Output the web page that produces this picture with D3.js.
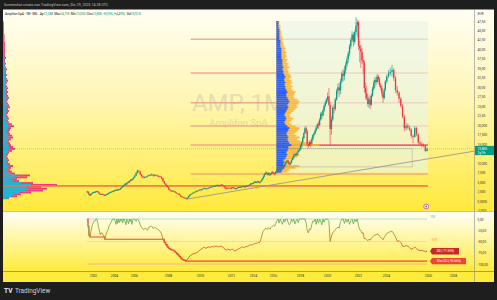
<!DOCTYPE html>
<html>
<head>
<meta charset="utf-8">
<script src="https://cdnjs.cloudflare.com/ajax/libs/d3/7.8.5/d3.min.js"></script>
<style>
  body { margin: 0; background: #1e1e1e; }
  svg { display: block; font-family: Roboto, "Liberation Sans", sans-serif; }
</style>
</head>
<body>
<script>
// Monthly candles Amplifon (EUR), Jun 2001 .. Dec 2025
const closes = [
  2.5, 2.1, 1.6, 1.5, 1.8, 2.0, 2.2,                               // 2001
  2.3, 2.4, 2.4, 2.5, 2.6, 2.4, 2.1, 1.9, 1.7, 1.8, 1.8, 1.7,      // 2002
  1.6, 1.5, 1.6, 1.8, 1.9, 2.0, 2.2, 2.3, 2.4, 2.5, 2.6, 2.7,      // 2003
  2.8, 2.9, 2.8, 3.0, 2.9, 3.1, 3.0, 3.2, 3.5, 3.7, 3.8, 4.1,      // 2004
  4.3, 4.6, 4.4, 4.8, 5.0, 4.9, 5.3, 5.4, 5.7, 5.6, 5.9, 6.2,      // 2005
  6.7, 7.4, 8.0, 7.8, 7.0, 6.5, 6.2, 6.3, 6.4, 6.6, 6.8, 6.9,      // 2006
  7.0, 6.7, 6.9, 6.8, 6.6, 6.5, 6.4, 6.0, 5.2, 4.6, 4.1, 3.7,      // 2007
  3.1, 2.8, 2.6, 2.7, 2.5, 2.2, 2.0, 1.9, 1.6, 1.2, 1.0, 0.9,      // 2008
  0.8, 0.6, 0.9, 1.3, 1.7, 1.9, 2.1, 2.3, 2.5, 2.6, 2.8, 3.0,      // 2009
  2.9, 3.1, 3.3, 3.4, 3.2, 3.3, 3.5, 3.6, 3.7, 3.8, 3.9, 4.0,      // 2010
  4.1, 4.2, 4.0, 4.2, 4.3, 4.1, 3.9, 3.4, 3.3, 3.5, 3.4, 3.3,      // 2011
  3.5, 3.6, 3.5, 3.4, 3.2, 3.3, 3.4, 3.6, 3.7, 3.6, 3.7, 3.8,      // 2012
  3.9, 3.8, 3.7, 3.8, 4.0, 3.9, 4.1, 4.2, 4.4, 4.6, 4.5, 4.7,      // 2013
  4.8, 5.0, 5.1, 4.9, 5.0, 5.2, 5.0, 4.9, 5.1, 5.3, 5.6, 6.0,      // 2014
  6.4, 6.9, 7.3, 7.5, 7.2, 7.0, 7.4, 7.1, 6.9, 7.3, 7.6, 7.5,      // 2015
  7.4, 7.2, 7.7, 8.2, 8.5, 8.2, 8.8, 9.2, 9.0, 9.4, 9.8, 10.3,     // 2016
  10.6, 10.1, 9.7, 10.0, 10.8, 11.4, 12.0, 12.4, 12.1, 12.8, 13.2, 13.6, // 2017
  14.6, 15.5, 16.6, 17.9, 19.2, 18.4, 15.0, 14.6, 15.5, 15.1, 16.3, 17.4, // 2018
  17.8, 18.6, 19.4, 20.2, 20.0, 21.5, 23.0, 22.6, 23.9, 25.1, 25.9, 26.8, // 2019
  27.6, 25.4, 19.0, 21.5, 24.6, 24.3, 26.8, 29.1, 30.0, 29.2, 31.6, 33.6, // 2020
  33.0, 34.5, 36.0, 37.4, 38.9, 40.8, 42.5, 43.9, 42.0, 44.6, 46.3, 47.2, // 2021
  41.0, 40.2, 39.4, 37.2, 36.6, 29.8, 28.4, 27.2, 25.6, 26.8, 25.4, 27.8, // 2022
  29.6, 31.2, 31.9, 31.4, 32.8, 32.2, 30.6, 30.0, 28.4, 27.2, 29.4, 31.6, // 2023
  32.9, 33.8, 34.1, 34.6, 32.4, 29.3, 28.6, 27.0, 25.1, 22.3, 19.2, 19.9, // 2024
  19.4, 18.9, 17.2, 16.9, 19.3, 17.6, 15.4, 15.1, 14.8, 14.5, 13.21, 13.805 // 2025
];
const highs = [
  2.7, 2.6, 2.2, 1.7, 1.9, 2.1, 2.3,
  2.4, 2.5, 2.6, 2.6, 2.7, 2.7, 2.5, 2.2, 2.0, 1.9, 2.0, 1.9,
  1.8, 1.7, 1.7, 1.9, 2.0, 2.1, 2.3, 2.4, 2.5, 2.6, 2.7, 2.8,
  2.9, 3.0, 3.0, 3.1, 3.1, 3.2, 3.2, 3.3, 3.6, 3.8, 3.9, 4.2,
  4.5, 4.7, 4.7, 4.9, 5.1, 5.1, 5.4, 5.6, 5.8, 5.8, 6.0, 6.4,
  6.9, 7.6, 8.3, 8.2, 7.9, 7.1, 6.7, 6.5, 6.6, 6.8, 7.0, 7.1,
  7.3, 7.1, 7.0, 7.1, 6.9, 6.8, 6.7, 6.5, 6.1, 5.3, 4.7, 4.2,
  3.8, 3.2, 2.9, 2.9, 2.8, 2.6, 2.3, 2.1, 2.0, 1.7, 1.3, 1.1,
  1.0, 0.9, 1.0, 1.4, 1.8, 2.0, 2.2, 2.4, 2.6, 2.8, 2.9, 3.1,
  3.1, 3.2, 3.4, 3.6, 3.5, 3.4, 3.6, 3.7, 3.8, 3.9, 4.0, 4.1,
  4.3, 4.4, 4.3, 4.3, 4.5, 4.4, 4.2, 4.0, 3.6, 3.6, 3.6, 3.5,
  3.6, 3.7, 3.7, 3.6, 3.5, 3.4, 3.5, 3.7, 3.8, 3.8, 3.8, 3.9,
  4.0, 4.0, 3.9, 3.9, 4.1, 4.1, 4.2, 4.3, 4.5, 4.7, 4.7, 4.8,
  5.0, 5.1, 5.3, 5.2, 5.1, 5.3, 5.3, 5.1, 5.2, 5.4, 5.7, 6.1,
  6.6, 7.1, 7.5, 7.8, 7.7, 7.4, 7.6, 7.6, 7.3, 7.4, 7.8, 7.9,
  7.7, 7.6, 7.9, 8.4, 8.7, 8.7, 9.0, 9.4, 9.3, 9.6, 9.9, 10.5,
  10.9, 10.8, 10.3, 10.2, 11.0, 11.7, 12.3, 12.7, 12.6, 13.0, 13.5, 13.9,
  15.0, 15.8, 17.0, 18.2, 19.6, 19.8, 18.8, 15.6, 16.0, 16.0, 16.8, 17.7,
  18.2, 19.0, 19.9, 20.6, 21.0, 21.9, 23.5, 23.6, 24.3, 25.5, 26.4, 27.2,
  28.6, 29.8, 26.2, 22.4, 25.2, 25.6, 27.3, 29.6, 31.0, 31.2, 32.3, 34.2,
  34.8, 35.6, 36.7, 38.2, 39.5, 41.4, 43.1, 44.8, 44.5, 45.1, 48.5, 47.9,
  47.6, 42.3, 41.2, 40.5, 38.3, 37.1, 31.2, 30.4, 28.3, 27.6, 27.9, 28.4,
  30.2, 31.8, 32.6, 32.8, 33.5, 33.3, 32.7, 31.2, 30.5, 28.9, 29.8, 31.9,
  33.4, 34.6, 35.2, 35.9, 35.1, 33.0, 30.4, 29.0, 27.4, 25.6, 22.8, 20.6,
  20.5, 19.9, 19.2, 17.6, 19.8, 19.6, 17.8, 15.9, 15.6, 15.2, 14.8, 14.195
];
const lows = [
  2.3, 2.0, 1.5, 1.3, 1.5, 1.7, 1.9,
  2.1, 2.2, 2.3, 2.3, 2.4, 2.3, 2.0, 1.8, 1.6, 1.6, 1.7, 1.6,
  1.5, 1.4, 1.4, 1.6, 1.7, 1.8, 1.9, 2.1, 2.2, 2.3, 2.4, 2.5,
  2.6, 2.7, 2.6, 2.7, 2.8, 2.8, 2.9, 2.9, 3.1, 3.4, 3.6, 3.7,
  4.0, 4.2, 4.2, 4.3, 4.7, 4.7, 4.8, 5.1, 5.3, 5.3, 5.5, 5.8,
  6.1, 6.6, 7.2, 7.5, 6.8, 6.1, 5.9, 6.0, 6.1, 6.3, 6.5, 6.6,
  6.7, 6.5, 6.4, 6.6, 6.4, 6.3, 6.2, 5.7, 5.0, 4.4, 3.9, 3.5,
  2.9, 2.6, 2.4, 2.5, 2.4, 2.1, 1.9, 1.8, 1.5, 1.0, 0.9, 0.8,
  0.7, 0.5, 0.5, 0.8, 1.2, 1.6, 1.8, 2.0, 2.2, 2.4, 2.5, 2.7,
  2.8, 2.8, 3.0, 3.2, 3.0, 3.1, 3.2, 3.4, 3.5, 3.6, 3.7, 3.8,
  3.9, 4.0, 3.8, 3.9, 4.1, 4.0, 3.8, 3.1, 3.1, 3.2, 3.3, 3.2,
  3.2, 3.4, 3.4, 3.3, 3.1, 3.1, 3.2, 3.3, 3.5, 3.5, 3.5, 3.6,
  3.7, 3.7, 3.6, 3.6, 3.7, 3.8, 3.8, 4.0, 4.1, 4.3, 4.4, 4.4,
  4.6, 4.7, 4.9, 4.7, 4.8, 4.9, 4.9, 4.6, 4.8, 4.8, 5.2, 5.5,
  5.9, 6.3, 6.8, 7.1, 7.0, 6.7, 6.9, 6.6, 6.6, 6.8, 7.1, 7.2,
  6.9, 6.8, 7.1, 7.6, 8.1, 7.7, 8.1, 8.7, 8.8, 8.9, 9.1, 9.6,
  10.1, 9.9, 9.5, 9.5, 9.9, 10.7, 11.3, 11.8, 11.8, 12.0, 12.6, 13.0,
  13.4, 14.2, 15.2, 16.4, 17.7, 17.8, 14.4, 13.9, 14.5, 14.2, 14.8, 15.9,
  16.9, 17.6, 18.3, 19.1, 19.0, 19.8, 21.2, 21.6, 22.3, 23.4, 24.8, 25.6,
  26.2, 25.0, 14.6, 17.5, 21.0, 23.2, 23.8, 26.4, 28.1, 27.4, 28.2, 31.0,
  31.5, 31.8, 33.6, 35.3, 36.4, 38.2, 40.1, 42.0, 40.8, 41.3, 43.8, 43.1,
  39.8, 36.6, 35.1, 36.1, 33.5, 28.7, 26.8, 26.6, 24.9, 24.6, 24.3, 25.1,
  27.5, 29.1, 29.8, 30.4, 31.0, 31.4, 30.0, 29.2, 27.6, 25.9, 26.8, 29.0,
  31.0, 32.5, 33.1, 32.8, 31.7, 28.5, 27.8, 25.9, 24.6, 21.8, 18.4, 18.6,
  18.8, 18.4, 16.6, 15.3, 16.7, 17.1, 15.0, 14.6, 14.1, 14.2, 12.9, 13.055
];
const firstOpen = 2.4;
const lastClose = 13.805;

// Drawdown indicator (%), same months
const drawdown = [
  0, -16, -36, -40, -28, -20, -12,
  -8, -4, -4, 0, 0, -8, -19, -27, -35, -31, -31, -35,
  -38, -45, -38, -31, -27, -23, -15, -12, -8, -4, 0, 0,
  0, -6, -12, 0, -10, 0, -8, 0, -5, 0, -9, 0,
  0, -7, -13, 0, -4, -11, 0, -6, 0, -12, -3, 0,
  0, -5, 0, -4, -13, -19, -23, -22, -21, -25, -18, -17,
  -16, -21, -19, -20, -22, -24, -27, -33, -45, -52, -57, -62,
  -65, -67, -69, -68, -71, -74, -77, -80, -83, -87, -90, -91,
  -92, -93.66, -90, -86, -82, -80, -78, -77, -76, -75, -73, -70,
  -68, -66, -64, -63, -65, -64, -62, -63, -62, -61, -62, -60,
  -61, -60, -62, -61, -60, -62, -64, -68, -69, -67, -68, -69,
  -68, -67, -69, -70, -71, -70, -69, -67, -66, -65, -64, -63,
  -62, -63, -64, -62, -61, -62, -60, -59, -58, -57, -58, -57,
  -56, -55, -54, -55, -54, -53, -52, -53, -50, -45, -38, -31,
  -27, -24, -22, -20, -22, -23, -19, -21, -23, -19, -17, -16,
  -14, -16, -10, -4, 0, -9, 0, -6, -12, 0, -7, 0,
  0, -8, -13, -10, 0, -6, 0, -11, -4, 0, -8, 0,
  0, 0, 0, 0, 0, -8, -25, -31, -22, -24, -12, -4,
  -6, 0, -12, 0, -9, 0, -5, -13, 0, -7, 0, 0,
  0, -6, -50, -38, -30, -28, -24, -20, -18, -20, -6, 0,
  0, -10, 0, -7, 0, -12, -4, 0, -11, 0, -6, 0,
  -15, -24, -25, -32, -30, -44, -43, -46, -48, -45, -47, -43,
  -40, -37, -35, -36, -33, -34, -38, -40, -43, -46, -41, -37,
  -32, -30, -28, -27, -33, -40, -50, -48, -52, -60, -61, -59,
  -60, -64, -67, -66, -62, -66, -69, -70, -70, -71, -72, -71.55
];

const axisYears = [2002, 2004, 2006, 2008, 2010, 2012, 2014, 2016, 2018, 2020, 2022, 2024, 2026, 2028];
const priceTicks = [47.5, 45, 42.5, 40, 37.5, 35, 32.5, 30, 27.5, 25, 22.5, 20, 17.5, 15, 10, 7.5, 5, 2.5, 0, -2.5];
const priceTickLabels = ["47,50", "45,00", "42,50", "40,00", "37,50", "35,00", "32,50", "30,00", "27,50", "25,00",
  "22,50", "20,000", "17,500", "15,000", "10,000", "7,500", "5,000", "2,500", "0,0000", "-2,500"];
const ddTicks = [0, -25, -50, -75, -100];
const ddTickLabels = ["0,00", "-25,00", "-50,00", "-75,00", "-100,00"];

const fibLevels = [42.7, 33.8, 25.9, 19.8, 14.8, 7.1];
const supportLevel = 4.0;
const pocPrice = 14.75;

// Left (visible range) volume profile, rows of 0.5 EUR starting at 0.5
const leftProfileTotal = [6, 14, 18, 28, 40, 44, 38, 54, 30, 16, 14, 24, 27, 12, 9, 7, 8, 10, 7, 5,
  6, 5, 4, 5, 6, 9, 12, 10, 8, 7, 6, 8, 10, 9, 7, 6, 7, 8, 11, 9,
  6, 5, 6, 5, 4, 5, 6, 5, 7, 6, 5, 4, 5, 6, 5, 4, 5, 4, 5, 4,
  3, 4, 5, 4, 3, 4, 3, 3, 4, 3, 2, 3, 2, 2, 3, 2, 2, 2, 2, 2,
  2, 2, 2, 1.5, 1.5, 1.5, 1.5, 1, 1, 1, 1, 0.8, 0.8, 0.5];
const leftProfileUp = [4, 8, 10, 16, 22, 24, 22, 28, 18, 10, 8, 12, 14, 7, 5, 4, 5, 6, 4, 3,
  4, 3, 3, 3, 4, 5, 7, 6, 5, 4, 4, 5, 6, 5, 4, 4, 4, 5, 6, 5,
  4, 3, 4, 3, 3, 3, 4, 3, 4, 4, 3, 3, 3, 4, 3, 2, 3, 3, 3, 2,
  2, 2, 3, 2, 2, 2, 2, 2, 2, 2, 1, 2, 1, 1, 2, 1, 1, 1, 1, 1,
  1, 1, 1, 1, 1, 1, 1, 0.5, 0.5, 0.5, 0.5, 0.4, 0.4, 0.3];

// Fixed range volume profile (Apr 2016 .. Dec 2025), rows of 0.5 EUR starting at 7.5
const frvpTotal = [11, 13, 19, 23, 14, 15, 13, 18, 21, 23, 20, 22, 24, 26, 43, 30, 24, 21, 23, 20,
  18, 20, 22, 23, 19, 15, 13, 15, 17, 14, 13, 15, 17, 19, 21, 20, 22, 23, 21, 18,
  17, 18, 19, 16, 15, 16, 14, 16, 15, 13, 15, 14, 12, 12, 11, 13, 11, 12, 10, 11,
  9, 10, 9, 10, 8, 9, 8, 7, 7, 6, 6, 6, 5, 5, 5, 4, 4, 4, 3, 3];
const frvpUp = [5, 6, 8, 9, 7, 8, 7, 9, 10, 11, 10, 11, 12, 12, 15, 13, 12, 11, 12, 11,
  10, 11, 12, 13, 11, 9, 8, 9, 10, 9, 8, 9, 10, 11, 12, 11, 12, 13, 12, 11,
  10, 10, 11, 10, 9, 9, 8, 9, 8, 8, 9, 8, 7, 7, 6, 7, 6, 6, 6, 6,
  5, 5, 5, 5, 5, 5, 4, 4, 4, 4, 3, 3, 3, 3, 3, 3, 2, 2, 2, 2];

const W = 497, H = 300;
const L = 3, R = 494, axisX = 474.5;
const mainTop = 9.5, mainBottom = 211.5, lowerBottom = 271.5, bottom = 282;
const up = "#089981", down = "#f23645";

const months = closes.map((c, i) => new Date(2001, 5 + i, 15));

const svg = d3.select("body").append("svg").attr("width", W).attr("height", H);
const defs = svg.append("defs");

function vGrad(id, stops) {
  const g = defs.append("linearGradient").attr("id", id).attr("x1", 0).attr("x2", 0).attr("y1", 0).attr("y2", 1);
  stops.forEach(s => g.append("stop").attr("offset", s[0]).attr("stop-color", s[1]));
}
vGrad("mainBg", [[0, "#fffef4"], [0.45, "#fff6b4"], [1, "#ffe93c"]]);
vGrad("lowBg", [[0, "#fffffa"], [1, "#ffeb3b"]]);

defs.append("clipPath").attr("id", "mainClip")
  .append("rect").attr("x", L).attr("y", mainTop).attr("width", axisX - L).attr("height", mainBottom - mainTop);
defs.append("clipPath").attr("id", "lowClip")
  .append("rect").attr("x", L).attr("y", mainBottom).attr("width", axisX - L).attr("height", lowerBottom - mainBottom);

// frame
svg.append("rect").attr("width", W).attr("height", H).attr("fill", "#1e1e1e");
svg.append("text").attr("x", 4).attr("y", 6.2).attr("font-size", 3.4).attr("fill", "#c9c9c9")
  .attr("textLength", 104).text("Screenshot creato con TradingView.com, Dic 29, 2025 14:28 UTC");

svg.append("rect").attr("x", L).attr("y", mainTop).attr("width", R - L).attr("height", mainBottom - mainTop).attr("fill", "url(#mainBg)");
svg.append("rect").attr("x", L).attr("y", mainBottom).attr("width", R - L).attr("height", lowerBottom - mainBottom).attr("fill", "url(#lowBg)");
svg.append("rect").attr("x", L).attr("y", lowerBottom).attr("width", R - L).attr("height", bottom - lowerBottom).attr("fill", "#ffeb3b");

// scales
const x = d3.scaleTime()
  .domain(axisYears.map(yr => new Date(yr, 0, 1)))
  .range([93, 114, 134, 168, 200, 231, 253, 273, 300, 327, 358, 386, 428, 453]);
const y = d3.scaleLinear().domain([-2.5, 47.5]).range([210.5, 21]);
const yd = d3.scaleLinear().domain([0, -100]).range([219, 264]);

const main = svg.append("g").attr("clip-path", "url(#mainClip)");

// watermark
main.append("text").attr("x", 238.5).attr("y", 111).attr("text-anchor", "middle")
  .attr("font-size", 24).attr("fill", "#9598a1").attr("opacity", 0.25).text("AMP, 1M");
main.append("text").attr("x", 238.5).attr("y", 126).attr("text-anchor", "middle")
  .attr("font-size", 9.5).attr("fill", "#9598a1").attr("opacity", 0.28).text("Amplifon SpA");

// left volume profile
const leftRows = leftProfileTotal.map((t, i) => ({ p: 0.5 + i * 0.5, t, u: leftProfileUp[i] }));
const xvL = d3.scaleLinear().domain([0, d3.max(leftProfileTotal)]).range([0, 54]);
main.append("g").selectAll("rect").data(leftRows).join("rect")
  .attr("x", L).attr("y", d => y(d.p + 0.5)).attr("width", d => xvL(d.t))
  .attr("height", d => y(d.p) - y(d.p + 0.5)).attr("fill", "#ec407a");
main.append("g").selectAll("rect").data(leftRows).join("rect")
  .attr("x", L).attr("y", d => y(d.p + 0.5)).attr("width", d => xvL(d.u))
  .attr("height", d => y(d.p) - y(d.p + 0.5)).attr("fill", "#1fb6d5");

// fib / level lines
const fibStart = new Date(2009, 5, 1), rangeEnd = new Date(2025, 11, 31);
main.append("g").selectAll("line").data(fibLevels).join("line")
  .attr("x1", x(fibStart)).attr("x2", x(rangeEnd)).attr("y1", d => y(d)).attr("y2", d => y(d))
  .attr("stroke", "#f28b82").attr("stroke-width", 1.5).attr("opacity", 0.7);
main.append("line").attr("x1", L).attr("x2", x(rangeEnd)).attr("y1", y(supportLevel)).attr("y2", y(supportLevel))
  .attr("stroke", "#ff6e40").attr("stroke-width", 1.6).attr("opacity", 0.9);

// fixed range volume profile
const frvpStart = new Date(2016, 3, 1);
main.append("rect").attr("x", x(frvpStart)).attr("y", y(47.5))
  .attr("width", x(rangeEnd) - x(frvpStart)).attr("height", y(7.5) - y(47.5))
  .attr("fill", "#e8f5e9").attr("opacity", 0.6);
main.append("line").attr("x1", x(frvpStart)).attr("x2", x(rangeEnd)).attr("y1", y(pocPrice)).attr("y2", y(pocPrice))
  .attr("stroke", "#f23645").attr("stroke-width", 1.2);
const frRows = frvpTotal.map((t, i) => ({ p: 7.5 + i * 0.5, t, u: frvpUp[i] }));
const xvF = d3.scaleLinear().domain([0, d3.max(frvpTotal)]).range([0, 43]);
main.append("g").selectAll("rect").data(frRows).join("rect")
  .attr("x", x(frvpStart)).attr("y", d => y(d.p + 0.5)).attr("width", d => xvF(d.t))
  .attr("height", d => y(d.p) - y(d.p + 0.5)).attr("fill", "#ffb42e").attr("opacity", 0.9);
main.append("g").selectAll("rect").data(frRows).join("rect")
  .attr("x", x(frvpStart)).attr("y", d => y(d.p + 0.5)).attr("width", d => xvF(d.u))
  .attr("height", d => y(d.p) - y(d.p + 0.5)).attr("fill", "#2962ff");

// box drawing
main.append("rect").attr("x", x(frvpStart)).attr("y", y(13.8))
  .attr("width", x(new Date(2025, 3, 1)) - x(frvpStart)).attr("height", y(9.0) - y(13.8))
  .attr("fill", "none").attr("stroke", "#9598a1").attr("stroke-width", 0.6).attr("opacity", 0.7);

// trend line from the 2009 low, extended to the right
const t1 = [new Date(2009, 1, 15), 0.47], t2 = [new Date(2025, 0, 15), 10.24];
const px1 = [x(t1[0]), y(t1[1])], px2 = [x(t2[0]), y(t2[1])];
const slope = (px2[1] - px1[1]) / (px2[0] - px1[0]);
main.append("line").attr("x1", px1[0]).attr("y1", px1[1]).attr("x2", axisX).attr("y2", px1[1] + slope * (axisX - px1[0]))
  .attr("stroke", "#8c8f99").attr("stroke-width", 0.8);

// last price line
main.append("line").attr("x1", L).attr("x2", axisX).attr("y1", y(lastClose)).attr("y2", y(lastClose))
  .attr("stroke", up).attr("stroke-width", 0.6).attr("stroke-dasharray", "1,1").attr("opacity", 0.5);

// candles
const candles = closes.map((c, i) => ({ d: months[i], o: i ? closes[i - 1] : firstOpen, h: highs[i], l: lows[i], c }));
const cg = main.append("g");
cg.selectAll("line").data(candles).join("line")
  .attr("x1", d => x(d.d)).attr("x2", d => x(d.d))
  .attr("y1", d => y(d.h)).attr("y2", d => y(d.l))
  .attr("stroke", d => d.c >= d.o ? up : down).attr("stroke-width", 0.6);
cg.selectAll("rect").data(candles).join("rect")
  .attr("x", d => x(d.d) - 0.65).attr("width", 1.3)
  .attr("y", d => y(Math.max(d.o, d.c)))
  .attr("height", d => Math.max(0.8, Math.abs(y(d.o) - y(d.c))))
  .attr("fill", d => d.c >= d.o ? up : down);

// event marker
const ev = main.append("g").attr("transform", `translate(${x(new Date(2025, 11, 1))},206.5)`);
ev.append("circle").attr("r", 2.4).attr("fill", "#fff").attr("stroke", "#ab47bc").attr("stroke-width", 0.8);
ev.append("circle").attr("r", 1).attr("fill", "#ab47bc");

// legend
const legend = svg.append("text").attr("x", 5).attr("y", 14.6).attr("font-size", 3.3).attr("fill", "#131722")
  .style("white-space", "pre").attr("textLength", 136);
[["Amplifon SpA · 1M · MIL   Ap", "#131722"], ["13,288", up], ["  Max", "#131722"], ["14,195", up],
 ["  Min", "#131722"], ["13,055", up], ["  Chiu", "#131722"], ["13,805", up],
 ["  +0,595 (+4,49%)", up], ["  Vol", "#131722"], ["25,92 K", up]]
  .forEach(s => legend.append("tspan").attr("fill", s[1]).text(s[0]));

// price axis
svg.append("line").attr("x1", axisX).attr("x2", axisX).attr("y1", mainTop).attr("y2", bottom).attr("stroke", "#8a8a8a").attr("stroke-width", 0.6);
const pAxis = svg.append("g").attr("transform", `translate(${axisX},0)`)
  .call(d3.axisRight(y).tickValues(priceTicks).tickSize(0).tickPadding(3).tickFormat((d, i) => priceTickLabels[i]));
pAxis.select(".domain").remove();
pAxis.selectAll("text").attr("font-size", 3.2).attr("fill", "#333").attr("font-family", "Roboto");
svg.append("text").attr("x", axisX + 3).attr("y", 14.5).attr("font-size", 3.2).attr("fill", "#333").text("EUR");

const lab = svg.append("g").attr("transform", `translate(${axisX},${y(lastClose)})`);
lab.append("rect").attr("x", 0.5).attr("y", -2.8).attr("width", R - axisX - 0.5).attr("height", 9.2).attr("fill", up);
lab.append("text").attr("x", 3).attr("y", 1.1).attr("font-size", 3.2).attr("fill", "#fff").text("13,805");
lab.append("text").attr("x", 3).attr("y", 5.2).attr("font-size", 3.2).attr("fill", "#fff").text("2g 9h");

// pane separators
svg.append("line").attr("x1", L).attr("x2", R).attr("y1", mainBottom).attr("y2", mainBottom).attr("stroke", "#bdbdbd").attr("stroke-width", 0.6);
svg.append("line").attr("x1", L).attr("x2", R).attr("y1", lowerBottom).attr("y2", lowerBottom).attr("stroke", "#8a8a8a").attr("stroke-width", 0.6);

// lower pane: drawdown
const low = svg.append("g").attr("clip-path", "url(#lowClip)");
const dStart = months[0], dEnd = months[months.length - 1];
[[0, "#a5d6a7"], [-50, "#ffcc80"], [-100, "#ef9a9a"]].forEach(r => {
  low.append("line").attr("x1", x(dStart)).attr("x2", x(dEnd)).attr("y1", yd(r[0])).attr("y2", yd(r[0]))
    .attr("stroke", r[1]).attr("stroke-width", 0.7);
});
low.append("text").attr("x", x(dEnd) + 4).attr("y", yd(0) - 0.8).attr("font-size", 3).attr("fill", "#66bb6a").text("0%");
low.append("text").attr("x", x(dEnd) + 4).attr("y", yd(-50) - 0.8).attr("font-size", 3).attr("fill", "#ffa726").text("-50%");

const dd = drawdown.map((v, i) => ({ d: months[i], v }));
let run = 0;
const maxdd = dd.map(p => ({ d: p.d, v: (run = Math.min(run, p.v)) }));

const ddGrad = defs.append("linearGradient").attr("id", "ddGrad").attr("gradientUnits", "userSpaceOnUse")
  .attr("x1", 0).attr("x2", 0).attr("y1", yd(0)).attr("y2", yd(-100));
[[0, "#5cb85c"], [0.2, "#93a83a"], [0.45, "#c8772c"], [0.7, "#d8582c"], [0.95, "#ef3b2c"]]
  .forEach(s => ddGrad.append("stop").attr("offset", s[0]).attr("stop-color", s[1]));

low.append("path").datum(maxdd)
  .attr("d", d3.line().x(p => x(p.d)).y(p => yd(p.v)).curve(d3.curveStepAfter))
  .attr("fill", "none").attr("stroke", "#f44336").attr("stroke-width", 1.1);
low.append("path").datum(dd)
  .attr("d", d3.line().x(p => x(p.d)).y(p => yd(p.v)))
  .attr("fill", "none").attr("stroke", "url(#ddGrad)").attr("stroke-width", 0.9);

function ddLabel(v, txt, fill, w) {
  const g = svg.append("g").attr("transform", `translate(${x(dEnd) + 5},${yd(v)})`);
  g.append("path").attr("d", `M-2,0 L0,-3.2 L${w},-3.2 L${w},3.2 L0,3.2 Z`).attr("fill", fill);
  g.append("text").attr("x", w / 2).attr("y", 1.1).attr("text-anchor", "middle").attr("font-size", 3).attr("fill", "#fff").text(txt);
}
ddLabel(drawdown[drawdown.length - 1], "DD (-71.55%)", "#c62828", 27);
ddLabel(d3.min(drawdown), "Max DD (-93.66%)", "#f44336", 34);

const dAxis = svg.append("g").attr("transform", `translate(${axisX},0)`)
  .call(d3.axisRight(yd).tickValues(ddTicks).tickSize(0).tickPadding(3).tickFormat((d, i) => ddTickLabels[i]));
dAxis.select(".domain").remove();
dAxis.selectAll("text").attr("font-size", 3.2).attr("fill", "#333").attr("font-family", "Roboto");

// time axis
const tAxis = svg.append("g").attr("transform", `translate(0,${lowerBottom})`)
  .call(d3.axisBottom(x).tickValues(axisYears.map(yr => new Date(yr, 0, 1))).tickSize(0).tickFormat(d3.timeFormat("%Y")));
tAxis.select(".domain").remove();
tAxis.selectAll("text").attr("y", 3.6).attr("font-size", 3.3).attr("fill", "#333").attr("font-family", "Roboto");

// logo
svg.append("text").attr("x", 4).attr("y", 292.8).attr("font-size", 6.5).attr("font-weight", 900).attr("fill", "#d1d4dc").text("TV");
svg.append("text").attr("x", 15).attr("y", 292.8).attr("font-size", 6.4).attr("fill", "#d1d4dc").text("TradingView");
</script>
</body>
</html>
